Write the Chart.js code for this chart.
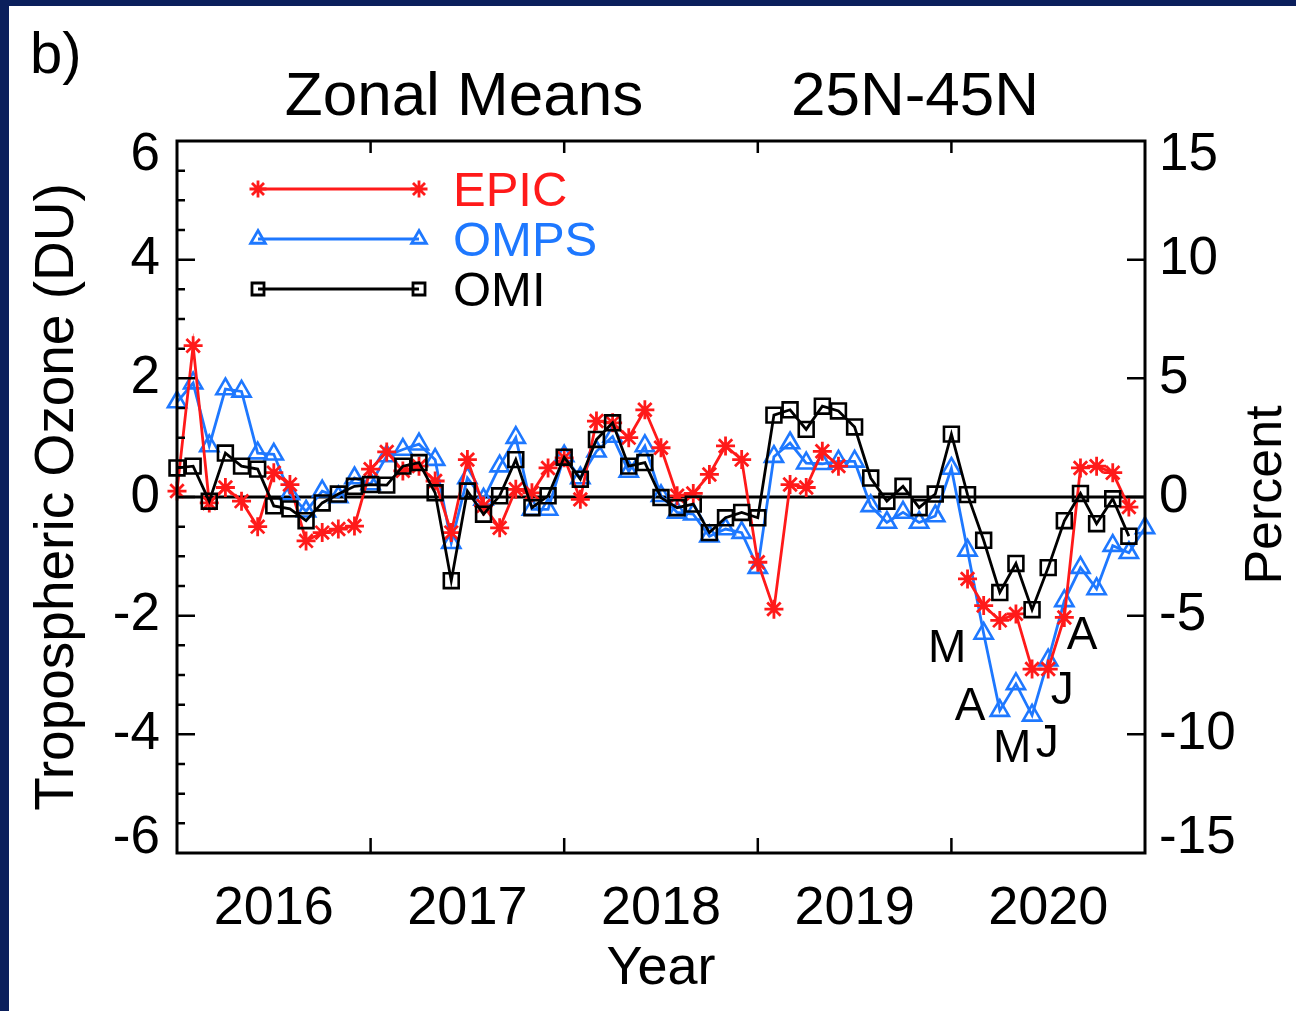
<!DOCTYPE html>
<html>
<head>
<meta charset="utf-8">
<script src="https://cdn.jsdelivr.net/npm/chart.js@4.4.1/dist/chart.umd.min.js"></script>
<style>
  html, body { margin: 0; padding: 0; background: #0b1f5c; }
  #c { display: block; }
</style>
</head>
<body>
<canvas id="c" width="1296" height="1011"></canvas>
<script>
// Monthly categories, Jan 2016 .. Jan 2021
const months = [
  '2016-01','2016-02','2016-03','2016-04','2016-05','2016-06','2016-07','2016-08','2016-09','2016-10','2016-11','2016-12',
  '2017-01','2017-02','2017-03','2017-04','2017-05','2017-06','2017-07','2017-08','2017-09','2017-10','2017-11','2017-12',
  '2018-01','2018-02','2018-03','2018-04','2018-05','2018-06','2018-07','2018-08','2018-09','2018-10','2018-11','2018-12',
  '2019-01','2019-02','2019-03','2019-04','2019-05','2019-06','2019-07','2019-08','2019-09','2019-10','2019-11','2019-12',
  '2020-01','2020-02','2020-03','2020-04','2020-05','2020-06','2020-07','2020-08','2020-09','2020-10','2020-11','2020-12',
  '2021-01'
];

// Tropospheric ozone anomalies (DU), zonal mean 25N-45N
const epic = [
  0.10, 2.55, -0.10, 0.16, -0.07, -0.50, 0.41, 0.21, -0.74, -0.60, -0.54, -0.49,
  0.47, 0.76, 0.44, 0.52, 0.27, -0.60, 0.63, -0.15, -0.52, 0.13, 0.07, 0.49,
  0.66, -0.04, 1.28, 1.25, 1.00, 1.47, 0.83, 0.02, 0.06, 0.38, 0.86, 0.63,
  -1.10, -1.89, 0.21, 0.16, 0.77, 0.52, null, null, null, null, null, null,
  null, -1.38, -1.83, -2.08, -1.97, -2.90, -2.90, -2.03, 0.49, 0.52, 0.41, -0.17,
  null
];
const omps = [
  1.60, 1.92, 0.86, 1.82, 1.78, 0.74, 0.72, 0.05, -0.24, 0.10, 0.00, 0.32,
  0.22, 0.69, 0.80, 0.89, 0.63, -0.77, 0.32, -0.04, 0.52, 1.00, -0.21, -0.21,
  0.69, 0.32, 0.77, 1.02, 0.43, 0.86, 0.02, -0.26, -0.29, -0.66, -0.54, -0.60,
  -1.19, 0.68, 0.91, 0.57, 0.56, 0.60, 0.60, -0.15, -0.43, -0.26, -0.43, -0.32,
  0.48, -0.90, -2.30, -3.60, -3.15, -3.68, -2.75, -1.75, -1.19, -1.55, -0.82, -0.94,
  -0.52
];
const omi = [
  0.49, 0.52, -0.07, 0.74, 0.52, 0.47, -0.15, -0.20, -0.40, -0.10, 0.05, 0.18,
  0.21, 0.20, 0.52, 0.58, 0.07, -1.41, 0.10, -0.29, 0.02, 0.63, -0.18, 0.02,
  0.67, 0.30, 0.97, 1.25, 0.52, 0.58, -0.01, -0.18, -0.12, -0.60, -0.35, -0.26,
  -0.35, 1.38, 1.47, 1.14, 1.53, 1.45, 1.18, 0.32, -0.07, 0.18, -0.18, 0.05,
  1.06, 0.04, -0.73, -1.61, -1.12, -1.90, -1.19, -0.40, 0.06, -0.45, -0.03, -0.66,
  null
];

const seriesNames = ['EPIC', 'OMPS', 'OMI'];
const duTicksMajor = [-6, -4, -2, 0, 2, 4, 6];
const pctTicks = [-15, -10, -5, 0, 5, 10, 15];

// Month letters marking the spring/summer 2020 dip
const monthTags = ['M', 'A', 'M', 'J', 'J', 'A'];

const RED = '#ff1a1a';
const BLUE = '#1e78ff';
const BLACK = '#000000';
const NAVY = '#0b1f5c';
const FONT = '"Liberation Sans", Arial, Helvetica, sans-serif';
const W = 1296, H = 1011;

// where each month letter sits (category index, DU)
const tagPlaces = [
  [47.74, -2.50], [49.16, -3.48], [51.77, -4.18],
  [53.94, -4.10], [54.87, -3.21], [56.10, -2.29]
];

function f(size) { return size + 'px ' + FONT; }

const decor = {
  id: 'decor',
  beforeDraw(chart) {
    const ctx = chart.ctx;
    ctx.save();
    ctx.fillStyle = NAVY;
    ctx.fillRect(0, 0, W, H);
    ctx.fillStyle = '#ffffff';
    ctx.fillRect(9, 6, W - 9, H - 6);
    ctx.restore();
  },
  beforeDatasetsDraw(chart) {
    const ctx = chart.ctx, a = chart.chartArea, y = chart.scales.y;
    const y0 = y.getPixelForValue(0);
    ctx.save();
    ctx.strokeStyle = BLACK;
    ctx.lineWidth = 3;
    ctx.beginPath();
    ctx.moveTo(a.left, y0);
    ctx.lineTo(a.right, y0);
    ctx.stroke();
    ctx.restore();
  },
  afterDatasetsDraw(chart) {
    const ctx = chart.ctx, a = chart.chartArea;
    const x = chart.scales.x, y = chart.scales.y, y2 = chart.scales.y2;
    ctx.save();
    ctx.strokeStyle = BLACK;
    ctx.lineWidth = 3;
    ctx.strokeRect(a.left, a.top, a.right - a.left, a.bottom - a.top);
    ctx.lineWidth = 2.5;
    ctx.beginPath();
    // left axis: every 0.5 DU, longer marks on labelled values
    y.ticks.forEach(t => {
      if (t.value <= y.min || t.value >= y.max) return;
      const p = y.getPixelForValue(t.value);
      const len = (Math.abs(t.value) % 2 === 0) ? 18 : 8;
      ctx.moveTo(a.left, p); ctx.lineTo(a.left + len, p);
    });
    // right axis: percent
    y2.ticks.forEach(t => {
      if (t.value <= y2.min || t.value >= y2.max) return;
      const p = y2.getPixelForValue(t.value);
      ctx.moveTo(a.right, p); ctx.lineTo(a.right - 18, p);
    });
    // year boundaries on bottom and top
    months.forEach((m, i) => {
      if (i === 0 || i === months.length - 1 || !m.endsWith('-01')) return;
      const p = x.getPixelForValue(i);
      ctx.moveTo(p, a.bottom); ctx.lineTo(p, a.bottom - 15);
      ctx.moveTo(p, a.top); ctx.lineTo(p, a.top + 12);
    });
    ctx.stroke();
    ctx.restore();
  },
  afterDraw(chart) {
    const ctx = chart.ctx, x = chart.scales.x, y = chart.scales.y;
    ctx.save();
    ctx.fillStyle = BLACK;
    ctx.textBaseline = 'alphabetic';

    ctx.font = f(58);
    ctx.textAlign = 'left';
    ctx.fillText('b)', 30, 73);

    ctx.font = f(62);
    ctx.textAlign = 'center';
    ctx.fillText('Zonal Means', 464, 115);
    ctx.fillText('25N-45N', 915, 115);

    ctx.font = f(54);
    ctx.fillText('Year', 661, 984);

    ctx.save();
    ctx.translate(73, 497);
    ctx.rotate(-Math.PI / 2);
    ctx.font = f(55);
    ctx.fillText('Tropospheric Ozone (DU)', 0, 0);
    ctx.restore();

    ctx.save();
    ctx.translate(1281, 495);
    ctx.rotate(-Math.PI / 2);
    ctx.font = f(52);
    ctx.fillText('Percent', 0, 0);
    ctx.restore();

    // legend: line with a marker at each end, then the name
    const rows = [189, 239, 289];
    seriesNames.forEach((name, r) => {
      const ds = chart.data.datasets.find(d => d.label === name);
      const ly = rows[r];
      ctx.strokeStyle = ds.borderColor;
      ctx.lineWidth = 2.8;
      ctx.beginPath();
      ctx.moveTo(258, ly); ctx.lineTo(419, ly);
      ctx.stroke();
      const style = { pointStyle: ds.pointStyle, radius: 8.5, borderWidth: 2.5, rotation: 0 };
      ctx.fillStyle = ds.pointBackgroundColor;
      [258, 419].forEach(px => Chart.helpers.drawPoint(ctx, style, px, ly));
      ctx.font = f(49);
      ctx.textAlign = 'left';
      ctx.fillStyle = ds.borderColor;
      ctx.fillText(ds.label, 453, ly + 17);
    });

    // month letters
    ctx.fillStyle = BLACK;
    ctx.font = f(46);
    ctx.textAlign = 'center';
    monthTags.forEach((t, i) => {
      const px = x.getPixelForValue(tagPlaces[i][0]);
      const py = y.getPixelForValue(tagPlaces[i][1]);
      ctx.fillText(t, px, py + 16.5);
    });
    ctx.restore();
  }
};

new Chart(document.getElementById('c'), {
  type: 'line',
  data: {
    labels: months,
    datasets: [
      {
        label: seriesNames[2], data: omi, order: 0,
        borderColor: BLACK, borderWidth: 2.8,
        pointStyle: 'rect', pointRadius: 10.5, pointBorderWidth: 2.6,
        pointBorderColor: BLACK, pointBackgroundColor: 'rgba(0,0,0,0)'
      },
      {
        label: seriesNames[0], data: epic, order: 1,
        borderColor: RED, borderWidth: 2.8,
        pointStyle: 'star', pointRadius: 9.5, pointBorderWidth: 2.8,
        pointBorderColor: RED, pointBackgroundColor: RED
      },
      {
        label: seriesNames[1], data: omps, order: 2,
        borderColor: BLUE, borderWidth: 2.8,
        pointStyle: 'triangle', pointRadius: 10.5, pointBorderWidth: 2.6,
        pointBorderColor: BLUE, pointBackgroundColor: 'rgba(0,0,0,0)'
      }
    ]
  },
  options: {
    responsive: false,
    animation: false,
    spanGaps: false,
    layout: { padding: { left: 0, right: 0, top: 141, bottom: 0 } },
    plugins: { legend: { display: false }, tooltip: { enabled: false }, title: { display: false } },
    elements: { line: { tension: 0, fill: false } },
    scales: {
      x: {
        type: 'category',
        offset: false,
        grid: { display: false, drawTicks: false },
        border: { display: false },
        afterFit(s) { s.height = 158; },
        ticks: {
          autoSkip: false, maxRotation: 0, minRotation: 0, padding: 24,
          color: BLACK, font: { size: 54, family: FONT },
          callback(v, i) { const m = months[i]; return m.endsWith('-07') ? m.slice(0, 4) : ''; }
        }
      },
      y: {
        position: 'left', min: -6, max: 6,
        grid: { display: false, drawTicks: false },
        border: { display: false },
        afterFit(s) { s.width = 177; },
        ticks: {
          autoSkip: false, stepSize: 0.5, padding: 17, color: BLACK,
          font: { size: 53, family: FONT, lineHeight: 0.55 },
          callback(v) {
            if (!duTicksMajor.includes(v)) return '';
            if (v === 6) return ['', '6'];
            if (v === -6) return ['-6', ''];
            return String(v);
          }
        }
      },
      y2: {
        position: 'right', min: -15, max: 15,
        grid: { display: false, drawTicks: false },
        border: { display: false },
        afterFit(s) { s.width = 151; },
        ticks: {
          autoSkip: false, stepSize: 5, padding: 14, color: BLACK,
          font: { size: 53, family: FONT, lineHeight: 0.55 },
          callback(v) {
            if (!pctTicks.includes(v)) return '';
            if (v === 15) return ['', '15'];
            if (v === -15) return ['-15', ''];
            return String(v);
          }
        }
      }
    }
  },
  plugins: [decor]
});
</script>
</body>
</html>
